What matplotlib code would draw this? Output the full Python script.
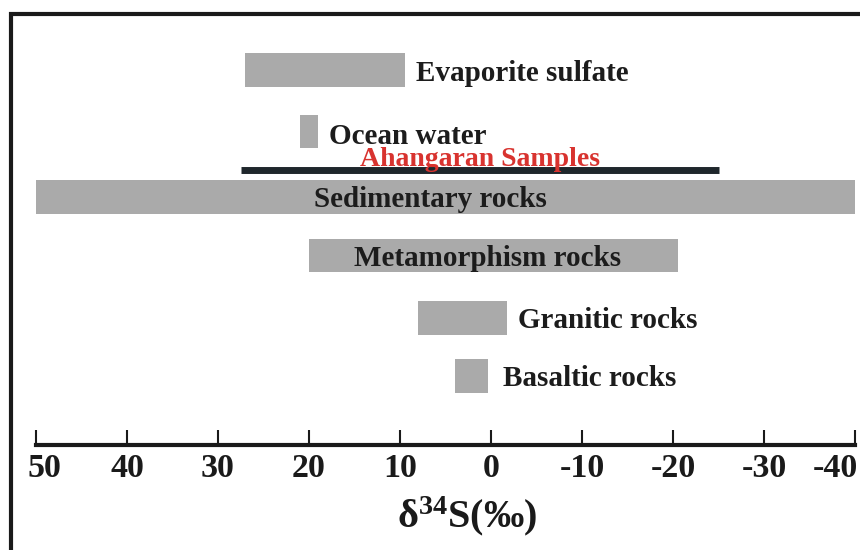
import matplotlib.pyplot as plt
from matplotlib.patches import Rectangle
from matplotlib.transforms import ScaledTranslation

# --- data (d34S ranges, per mil) ---
sources = ['Evaporite sulfate', 'Ocean water', 'Sedimentary rocks',
           'Metamorphism rocks', 'Granitic rocks', 'Basaltic rocks']
range_high = [27, 21, 50, 20, 8, 4]
range_low = [9.5, 19, -40, -20.5, -1.8, 0.3]

sample_name = 'Ahangaran Samples'
sample_range = [27.5, -25]

ticks = [50, 40, 30, 20, 10, 0, -10, -20, -30, -40]

# --- fonts ---
plt.rcParams['font.family'] = ['Liberation Serif', 'DejaVu Serif']
plt.rcParams['font.weight'] = 'bold'
plt.rcParams['mathtext.fontset'] = 'custom'
plt.rcParams['mathtext.rm'] = 'Liberation Serif:bold'
plt.rcParams['mathtext.it'] = 'Liberation Serif:bold'
plt.rcParams['mathtext.bf'] = 'Liberation Serif:bold'

fig = plt.figure(figsize=(8.6, 5.5), dpi=100)
ax = fig.add_axes([36 / 860, 0.191, 819 / 860, 0.7836])

bar_color = '#aaaaaa'
txt_color = '#1c1c1c'

# label placement: 'right' = outside the bar, otherwise x-offset (px) inside
label_mode = {0: 'right', 1: 'right', 2: -15, 3: -6, 4: 'right', 5: 'right'}
row_nudge = [0, 0, 0.07, 0.03, 0.05, 0]   # small vertical tweaks (rows)

for i, (name, hi, lo) in enumerate(zip(sources, range_high, range_low)):
    y = i + row_nudge[i]
    ax.barh(y, hi - lo, left=lo, height=0.55, color=bar_color, edgecolor='none')
    mode = label_mode[i]
    if mode == 'right':
        dx = 15 if i == 5 else 11
        dy = -2 if i == 1 else 0
        ax.annotate(name, xy=(lo, y), xytext=(dx, dy), textcoords='offset pixels',
                    ha='left', va='center_baseline', fontsize=21, color=txt_color)
    else:
        ax.annotate(name, xy=((hi + lo) / 2, y), xytext=(mode, 0),
                    textcoords='offset pixels',
                    ha='center', va='center_baseline', fontsize=21, color=txt_color)

# sample range line
y_s = 1.63
ax.plot(sample_range, [y_s, y_s], color='#1f272c', lw=5, solid_capstyle='butt')
ax.annotate(sample_name, xy=(sum(sample_range) / 2, y_s), xytext=(0, 4),
            textcoords='offset pixels', ha='center', va='baseline',
            fontsize=20, color='#d8332f')

ax.set_xlim(50, -40)
ax.set_ylim(6.13, -0.92)
ax.set_xticks(ticks)
ax.set_xticklabels([str(t) for t in ticks])
ax.set_yticks([])
for s in ['top', 'left', 'right']:
    ax.spines[s].set_visible(False)
ax.spines['bottom'].set_linewidth(3)
ax.spines['bottom'].set_color('#1a1a1a')
ax.tick_params(axis='x', direction='in', length=11, width=1.5, pad=6,
               labelsize=24.5, colors='#1a1a1a')
ax.set_facecolor('none')

# nudge the edge tick labels inward like the original
labels = ax.get_xticklabels()
labels[0].set_transform(labels[0].get_transform()
                        + ScaledTranslation(8 / 100, 0, fig.dpi_scale_trans))
labels[-1].set_horizontalalignment('right')
labels[-1].set_transform(labels[-1].get_transform()
                         + ScaledTranslation(3 / 100, 0, fig.dpi_scale_trans))

fig.text(467 / 860, 1 - 527 / 550, r'$\mathrm{\delta}^{34}$S(‰)', fontsize=29,
         ha='center', va='baseline', color='#1a1a1a')

# outer frame
fig.patches.append(Rectangle((11 / 860, -0.1), 1.2, 1 - 14 / 550 + 0.1,
                             transform=fig.transFigure, fill=False,
                             lw=3, edgecolor='#1a1a1a'))

fig.savefig('out.png', dpi=100)
